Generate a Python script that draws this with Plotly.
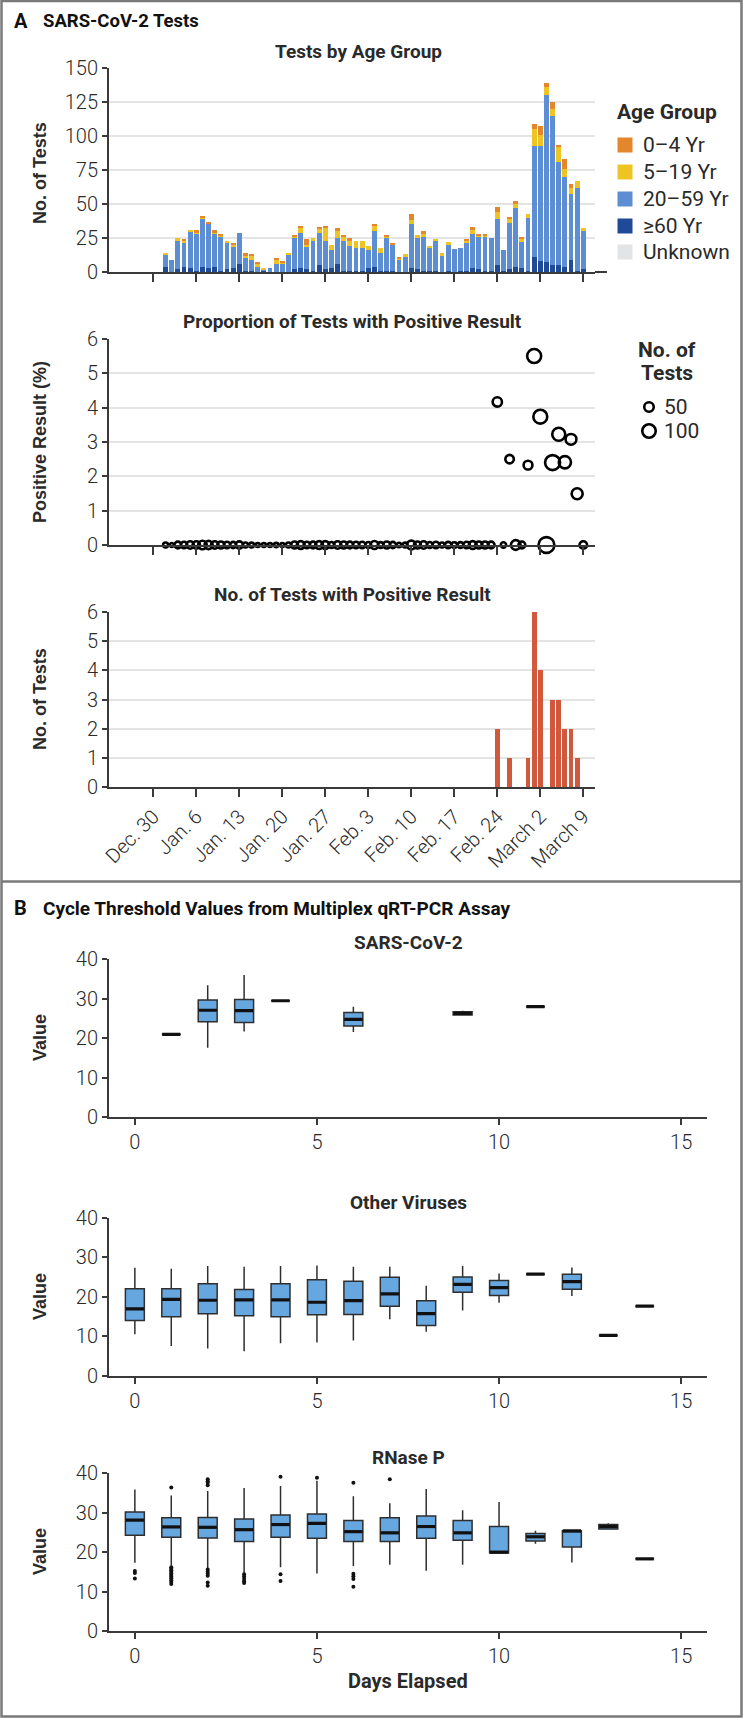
import plotly.graph_objects as go
import pandas as pd

W, H = 743, 1718

# ---------------- data ----------------
dates = pd.date_range("2020-01-01", "2020-03-09", freq="D").strftime("%Y-%m-%d").tolist()

age_groups = ["0\u20134 Yr", "5\u201319 Yr", "20\u201359 Yr", "\u226560 Yr", "Unknown"]

tests_60plus = [4, 0, 2, 4, 3, 1, 4, 3, 4, 1, 2, 3, 6, 1, 1, 0, 1, 0, 0, 0, 0, 2, 3, 2, 1, 5, 2, 3, 6, 1, 1,
                1, 1, 3, 4, 1, 1, 1, 0, 0, 3, 2, 1, 1, 1, 0, 1, 0, 1, 1, 3, 2, 1, 1, 5, 1, 2, 4, 3, 1,
                11, 8, 7, 5, 5, 4, 9, 1, 2]
tests_20_59 = [9, 9, 21, 17, 27, 27, 35, 33, 24, 25, 20, 16, 23, 10, 8, 4, 1, 3, 6, 6, 13, 23, 26, 17, 22, 24, 21, 13, 19, 22, 18,
               17, 17, 13, 26, 13, 24, 19, 9, 11, 32, 23, 25, 17, 22, 12, 19, 17, 17, 20, 25, 24, 25, 24, 34, 15, 34, 43, 19, 39,
               82, 85, 123, 110, 76, 66, 48, 61, 28]
tests_5_19 = [1, 0, 2, 2, 1, 1, 1, 0, 1, 1, 1, 1, 0, 1, 3, 2, 1, 0, 3, 1, 1, 1, 3, 1, 2, 3, 10, 4, 5, 3, 4,
              5, 5, 3, 4, 4, 1, 0, 1, 2, 3, 2, 2, 1, 1, 2, 2, 0, 0, 2, 3, 1, 1, 0, 5, 0, 3, 3, 2, 3,
              12, 8, 6, 5, 11, 6, 5, 5, 2]
tests_0_4 = [0, 0, 0, 1, 0, 2, 1, 1, 2, 1, 0, 1, 0, 2, 1, 1, 0, 0, 1, 1, 0, 1, 2, 4, 0, 1, 1, 0, 2, 1, 2,
             0, 0, 0, 1, 0, 1, 1, 1, 0, 5, 0, 2, 0, 0, 0, 0, 0, 0, 1, 2, 1, 1, 0, 4, 0, 1, 2, 2, 0,
             4, 6, 3, 5, 1, 7, 3, 0, 0]
tests_unknown = [0] * len(dates)

pos_dates = ["2020-02-24", "2020-02-26", "2020-02-29", "2020-03-01", "2020-03-02",
             "2020-03-04", "2020-03-05", "2020-03-06", "2020-03-07", "2020-03-08"]
pos_counts = [2, 1, 1, 6, 4, 3, 3, 2, 2, 1]

week_ticks = ["2019-12-30", "2020-01-06", "2020-01-13", "2020-01-20", "2020-01-27", "2020-02-03",
              "2020-02-10", "2020-02-17", "2020-02-24", "2020-03-02", "2020-03-09"]
week_labels = ["Dec. 30", "Jan. 6", "Jan. 13", "Jan. 20", "Jan. 27", "Feb. 3",
               "Feb. 10", "Feb. 17", "Feb. 24", "March 2", "March 9"]

legend_sizes = [50, 100]

# Cycle threshold box statistics
sars_days = [1, 2, 3, 4, 6, 9, 11]
sars_q1 = [21.0, 24.2, 24.0, 29.5, 23.1, 25.9, 28.0]
sars_med = [21.0, 27.1, 27.0, 29.5, 24.8, 26.3, 28.0]
sars_q3 = [21.0, 29.7, 29.8, 29.5, 26.5, 26.75, 28.0]
sars_lo = [21.0, 17.6, 21.7, 29.5, 21.6, 25.7, 28.0]
sars_hi = [21.0, 33.4, 36.0, 29.5, 28.0, 27.0, 28.0]

other_days = [0, 1, 2, 3, 4, 5, 6, 7, 8, 9, 10, 11, 12, 13, 14]
other_q1 = [14.0, 14.9, 15.7, 15.2, 14.9, 15.4, 15.5, 17.6, 12.7, 21.1, 20.3, 25.7, 21.9, 10.2, 17.6]
other_med = [16.9, 19.3, 19.1, 19.2, 19.2, 18.6, 19.0, 20.7, 15.7, 23.1, 22.3, 25.7, 23.8, 10.2, 17.6]
other_q3 = [22.0, 22.0, 23.3, 21.8, 23.3, 24.3, 23.9, 24.9, 19.0, 25.0, 24.1, 25.7, 25.7, 10.2, 17.6]
other_lo = [10.5, 7.5, 6.9, 6.2, 8.2, 8.4, 8.9, 14.3, 11.1, 16.5, 18.5, 25.7, 20.2, 10.2, 17.6]
other_hi = [27.3, 27.1, 27.8, 27.6, 27.8, 27.9, 27.6, 27.6, 22.8, 27.8, 25.9, 25.7, 27.4, 10.2, 17.6]

rnase_days = [0, 1, 2, 3, 4, 5, 6, 7, 8, 9, 10, 11, 12, 13, 14]
rnase_q1 = [24.3, 23.8, 23.6, 22.7, 23.8, 23.5, 22.7, 22.7, 23.5, 23.0, 19.8, 22.8, 21.3, 25.9, 18.3]
rnase_med = [28.1, 26.4, 26.3, 25.7, 27.0, 27.3, 25.2, 24.9, 26.5, 24.9, 20.0, 23.9, 25.4, 26.5, 18.3]
rnase_q3 = [30.2, 28.7, 28.8, 28.4, 29.4, 29.7, 28.0, 28.7, 29.2, 28.0, 26.5, 24.7, 25.4, 27.0, 18.3]
rnase_lo = [17.3, 16.6, 15.8, 14.5, 16.2, 14.6, 16.5, 16.8, 15.3, 16.8, 19.8, 22.1, 17.4, 25.9, 18.3]
rnase_hi = [35.9, 34.4, 35.5, 36.3, 36.8, 38.1, 34.2, 32.4, 36.0, 30.6, 32.7, 25.4, 25.4, 27.3, 18.3]
rnase_out_day = [0, 0, 0,
                 1, 1, 1, 1, 1, 1, 1, 1, 1, 1, 1, 1,
                 2, 2, 2, 2, 2, 2, 2, 2, 2, 2,
                 3, 3, 3, 3, 3,
                 4, 4, 4,
                 5,
                 6, 6, 6, 6, 6,
                 7]
rnase_out_val = [15.2, 14.7, 13.3,
                 36.4, 16.2, 15.8, 15.4, 15.0, 14.6, 14.2, 13.8, 13.4, 12.9, 12.4, 11.9,
                 38.5, 38.0, 37.6, 37.0, 15.6, 15.0, 14.5, 14.0, 12.3, 11.5,
                 14.4, 13.8, 13.2, 12.6, 12.2,
                 39.1, 14.4, 12.7,
                 38.9,
                 37.6, 14.5, 13.9, 13.2, 11.2,
                 38.5]

# ---------------- styles ----------------
NARROW = "Liberation Sans Narrow, Arial Narrow, Roboto, sans-serif"
WIDE = "Liberation Sans, Arial, sans-serif"
TXT = "#2a2a2a"
AX = "#3a3a3a"
GRID = "#e4e4e4"
age_colors = ["#E3862C", "#EDC423", "#5D8ED3", "#1F4A98", "#E3E4E6"]
POS_RED = "#D0583C"
BOX_FILL = "#67A7E0"
BOX_LINE = "#2e2e2e"


def py(p):
    return 1 - p / H


def pxx(p):
    return p / W


origin = pd.Timestamp("2019-12-30")
px_per_day = (583.3 - 153.3) / 70


def day_at(p):
    return (origin + pd.Timedelta(days=(p - 153.3) / px_per_day)).strftime("%Y-%m-%d %H:%M:%S")


x_range = [day_at(109), day_at(595)]

fig = go.Figure()

# ---- top: stacked bars by age ----
stack = [(age_groups[3], tests_60plus, age_colors[3]),
         (age_groups[2], tests_20_59, age_colors[2]),
         (age_groups[1], tests_5_19, age_colors[1]),
         (age_groups[0], tests_0_4, age_colors[0]),
         (age_groups[4], tests_unknown, age_colors[4])]
for name, vals, col in stack:
    fig.add_trace(go.Bar(x=dates, y=vals, name=name, marker=dict(color=col, line=dict(width=0)),
                         xaxis="x", yaxis="y", showlegend=False))

totals = [a + b + c + d + e for a, b, c, d, e in zip(tests_60plus, tests_20_59, tests_5_19, tests_0_4, tests_unknown)]
pos_by_date = dict(zip(pos_dates, pos_counts))
positives = [pos_by_date.get(d, 0) for d in dates]
prop = [100.0 * p / t for p, t in zip(positives, totals)]

SIZEREF = 1.108

fig.add_trace(go.Scatter(x=dates, y=prop, mode="markers", cliponaxis=False,
                         marker=dict(symbol="circle-open", size=totals, sizemode="area", sizeref=SIZEREF,
                                     sizemin=2, color="#000000", opacity=1, line=dict(width=2.6, color="#000000")),
                         xaxis="x2", yaxis="y2", showlegend=False))

fig.add_trace(go.Bar(x=dates, y=positives, marker=dict(color=POS_RED, line=dict(width=0)),
                     xaxis="x3", yaxis="y3", showlegend=False))


def add_box_panel(days, q1, med, q3, lo, hi, xa, ya):
    fig.add_trace(go.Box(x=days, q1=q1, median=med, q3=q3, lowerfence=lo, upperfence=hi,
                         orientation="v", width=0.52, whiskerwidth=0, boxpoints=False,
                         fillcolor=BOX_FILL, line=dict(color=BOX_LINE, width=1.5),
                         xaxis=xa, yaxis=ya, showlegend=False))
    mx, my = [], []
    for d, m in zip(days, med):
        mx += [d - 0.25, d + 0.25, None]
        my += [m, m, None]
    fig.add_trace(go.Scatter(x=mx, y=my, mode="lines", line=dict(color="#111111", width=3.2),
                             xaxis=xa, yaxis=ya, showlegend=False))


add_box_panel(sars_days, sars_q1, sars_med, sars_q3, sars_lo, sars_hi, "x4", "y4")
add_box_panel(other_days, other_q1, other_med, other_q3, other_lo, other_hi, "x5", "y5")
add_box_panel(rnase_days, rnase_q1, rnase_med, rnase_q3, rnase_lo, rnase_hi, "x6", "y6")
fig.add_trace(go.Scatter(x=rnase_out_day, y=rnase_out_val, mode="markers",
                         marker=dict(color="#111111", size=4), xaxis="x6", yaxis="y6", showlegend=False))

# ---------------- axes ----------------
tickfont = dict(family=NARROW, size=20, color=TXT, weight=300)


def xdate(domain_px, show_labels, anchor):
    return dict(domain=[pxx(domain_px[0]), pxx(domain_px[1])], type="date", range=x_range,
                tickmode="array", tickvals=week_ticks, ticktext=week_labels,
                showticklabels=show_labels, tickangle=-45, tickfont=tickfont,
                ticks="outside", ticklen=8, tickwidth=1.5, tickcolor=AX,
                showline=True, linecolor=AX, linewidth=2, showgrid=False, zeroline=False,
                anchor=anchor, fixedrange=True, automargin=False)


def ylin(top_px, bot_px, rng, dtick, grid, anchor):
    return dict(domain=[py(bot_px), py(top_px)], range=rng, tickmode="linear", tick0=0, dtick=dtick,
                tickfont=tickfont, ticks="outside", ticklen=5, tickwidth=1.5, tickcolor=AX,
                showline=True, linecolor=AX, linewidth=2, showgrid=grid, gridcolor=GRID, gridwidth=1.6,
                zeroline=False, anchor=anchor, fixedrange=True, automargin=False)


def xnum(anchor):
    return dict(domain=[pxx(109), pxx(707)], range=[-0.71, 15.71], tickmode="array", tickvals=[0, 5, 10, 15],
                tickfont=tickfont, ticks="outside", ticklen=6, tickwidth=1.5, tickcolor=AX,
                showline=True, linecolor=AX, linewidth=2, showgrid=False, zeroline=False,
                anchor=anchor, fixedrange=True, automargin=False)


layout = dict(
    width=W, height=H, autosize=False, margin=dict(l=0, r=0, t=0, b=0, pad=0, autoexpand=False),
    paper_bgcolor="white", plot_bgcolor="white", barmode="stack", bargap=0.22,
    showlegend=False,
    xaxis=xdate((109, 595), False, "y"),
    yaxis=ylin(68, 272, [0, 150], 25, True, "x"),
    xaxis2=xdate((109, 595), False, "y2"),
    yaxis2=ylin(339, 545, [0, 6], 1, True, "x2"),
    xaxis3=xdate((109, 595), True, "y3"),
    yaxis3=ylin(612, 787, [0, 6], 1, True, "x3"),
    xaxis4=xnum("y4"),
    yaxis4=ylin(959.3, 1117.3, [0, 40], 10, False, "x4"),
    xaxis5=xnum("y5"),
    yaxis5=ylin(1217.7, 1375.7, [0, 40], 10, False, "x5"),
    xaxis6=xnum("y6"),
    yaxis6=ylin(1473.3, 1631, [0, 40], 10, False, "x6"),
)
fig.update_layout(**layout)

ann = []
shapes = []


def text(x, y, s, size, family=NARROW, bold=True, anchor="center", angle=0, color=TXT):
    ann.append(dict(x=pxx(x), y=py(y), xref="paper", yref="paper", text=("<b>%s</b>" % s) if bold else s,
                    showarrow=False, xanchor=anchor, yanchor="middle", textangle=angle,
                    font=dict(family=family, size=size, color=color)))


# panel headings
text(12, 21, "A", 20, anchor="left", color="#111")
text(41, 21, "SARS-CoV-2 Tests", 18.5, anchor="left", color="#111")
text(12, 908, "B", 20, anchor="left", color="#111")
text(41, 908, "Cycle Threshold Values from Multiplex qRT-PCR Assay", 19, anchor="left", color="#111")

# subplot titles
text(358, 52, "Tests by Age Group", 19)
text(352, 322, "Proportion of Tests with Positive Result", 19)
text(352, 594, "No. of Tests with Positive Result", 19)
text(408, 942, "SARS-CoV-2", 19)
text(408, 1202, "Other Viruses", 19)
text(408, 1457, "RNase P", 19)
text(408, 1681, "Days Elapsed", 20)

# axis titles
text(40, 173, "No. of Tests", 18, family=WIDE, angle=-90)
text(40, 442, "Positive Result (%)", 18, family=WIDE, angle=-90)
text(40, 699, "No. of Tests", 18, family=WIDE, angle=-90)
text(40, 1038, "Value", 18, family=WIDE, angle=-90)
text(40, 1297, "Value", 18, family=WIDE, angle=-90)
text(40, 1552, "Value", 18, family=WIDE, angle=-90)

# age legend
text(667, 112, "Age Group", 21)
leg_rows = [145, 172, 199, 226, 252]
for lab, col, yc in zip(age_groups, age_colors, leg_rows):
    shapes.append(dict(type="rect", xref="paper", yref="paper", x0=pxx(617.5), x1=pxx(632.5),
                       y0=py(yc + 7.5), y1=py(yc - 7.5), fillcolor=col, line=dict(width=0)))
    text(641, yc, lab, 21, bold=False, anchor="left")

# size legend
text(667, 350, "No. of", 21)
text(667, 373, "Tests", 21)
for n, yc in zip(legend_sizes, [407, 431]):
    r = (n / 2.0 / SIZEREF) ** 0.5
    shapes.append(dict(type="circle", xref="paper", yref="paper", xsizemode="pixel", ysizemode="pixel",
                       xanchor=pxx(649), yanchor=py(yc), x0=-r, x1=r, y0=-r, y1=r,
                       line=dict(color="#000000", width=2.6), fillcolor="rgba(0,0,0,0)"))
    text(662, yc, str(n), 21, bold=False, anchor="left")

# extension of the top chart baseline
shapes.append(dict(type="line", xref="paper", yref="paper", x0=pxx(595), x1=pxx(607), y0=py(272), y1=py(272),
                   line=dict(color=AX, width=2)))

# frame
shapes.append(dict(type="rect", xref="paper", yref="paper", x0=pxx(1.5), x1=pxx(741.5), y0=py(1716.5), y1=py(1),
                   line=dict(color="#7a7a7a", width=2.5), fillcolor="rgba(0,0,0,0)"))
shapes.append(dict(type="line", xref="paper", yref="paper", x0=pxx(1.5), x1=pxx(741.5), y0=py(881.5), y1=py(881.5),
                   line=dict(color="#7a7a7a", width=2.5)))

fig.update_layout(annotations=ann, shapes=shapes)

fig.write_html(
    "out.html",
    config={"displayModeBar": False, "responsive": False},
    post_script="document.documentElement.style.margin='0';document.documentElement.style.padding='0';"
                "document.documentElement.style.overflow='hidden';"
                "document.body.style.margin='0';document.body.style.padding='0';document.body.style.overflow='hidden';",
)
